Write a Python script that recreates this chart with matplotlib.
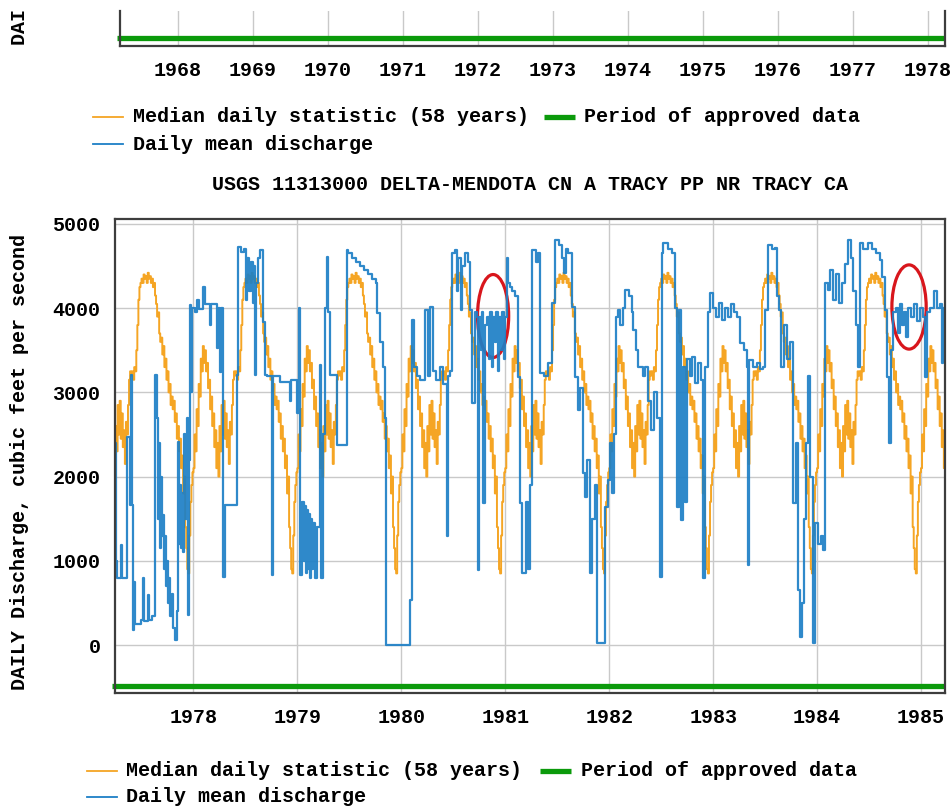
import matplotlib
matplotlib.use('Agg')
import matplotlib.pyplot as plt
from matplotlib.patches import Ellipse
from matplotlib.lines import Line2D
from matplotlib.transforms import Bbox, TransformedBbox

plt.rcParams['font.family'] = ['Liberation Mono', 'DejaVu Sans Mono']
plt.rcParams['font.weight'] = 'bold'
FS = 14.4

title = 'USGS 11313000 DELTA-MENDOTA CN A TRACY PP NR TRACY CA'
ylabel = 'DAILY Discharge, cubic feet per second'
leg_median = 'Median daily statistic (58 years)'
leg_period = 'Period of approved data'
leg_daily = 'Daily mean discharge'

top_years = list(range(1968, 1979))
main_years = list(range(1978, 1986))
cfs_ticks = [0, 1000, 2000, 3000, 4000, 5000]

# median daily statistic, one year (fraction of year -> cfs), same every year
med_frac = [0.000, 0.010, 0.020, 0.030, 0.040, 0.050, 0.060, 0.070, 0.080, 0.090,
            0.100, 0.110, 0.120, 0.130, 0.140, 0.150, 0.160, 0.170, 0.180, 0.190,
            0.200, 0.210, 0.220, 0.230, 0.240, 0.250, 0.260, 0.270, 0.280, 0.290,
            0.300, 0.310, 0.320, 0.330, 0.340, 0.350, 0.360, 0.370, 0.380, 0.390,
            0.400, 0.410, 0.420, 0.430, 0.440, 0.450, 0.460, 0.470, 0.480, 0.490,
            0.500, 0.510, 0.520, 0.530, 0.540, 0.550, 0.560, 0.570, 0.580, 0.590,
            0.600, 0.610, 0.620, 0.630, 0.640, 0.650, 0.660, 0.670, 0.680, 0.690,
            0.700, 0.710, 0.720, 0.730, 0.740, 0.750, 0.760, 0.770, 0.780, 0.790,
            0.800, 0.810, 0.820, 0.830, 0.840, 0.850, 0.860, 0.870, 0.880, 0.890,
            0.900, 0.910, 0.920, 0.930, 0.940, 0.950, 0.960, 0.970, 0.980, 0.990]
med_cfs = [2100, 2500, 2300, 2800, 2600, 3100, 2950, 3400, 3250, 3550,
           3350, 3500, 3250, 3350, 3050, 3150, 2800, 2950, 2600, 2750,
           2350, 2550, 2100, 2400, 2000, 2600, 2300, 2850, 2500, 2900,
           2450, 2750, 2350, 2550, 2150, 2650, 2500, 2850, 3150, 3250,
           3200, 3250, 3150, 3300, 3250, 3500, 3800, 4100, 4250, 4300,
           4350, 4300, 4400, 4350, 4380, 4300, 4420, 4350, 4380, 4300,
           4350, 4250, 4300, 4150, 4050, 3900, 3950, 3700, 3600, 3650,
           3450, 3550, 3300, 3400, 3150, 3250, 3000, 3100, 2850, 2950,
           2800, 2900, 2650, 2750, 2450, 2600, 2300, 2450, 2100, 2250,
           1800, 2000, 1400, 1150, 900, 850, 1300, 1700, 1900, 2050]

# daily mean discharge, read as steps (decimal year -> cfs)
blue_year = [
    # 1977
    1977.244, 1977.254, 1977.264, 1977.307, 1977.317, 1977.360, 1977.389, 1977.398,
    1977.408, 1977.418, 1977.427, 1977.437, 1977.495, 1977.514, 1977.524, 1977.562,
    1977.572, 1977.601, 1977.629, 1977.649, 1977.658, 1977.668, 1977.678, 1977.687,
    1977.697, 1977.706, 1977.716, 1977.726, 1977.735, 1977.745, 1977.755, 1977.764,
    1977.774, 1977.793, 1977.803, 1977.822, 1977.841, 1977.851, 1977.860, 1977.870,
    1977.880, 1977.889, 1977.899, 1977.909, 1977.918, 1977.937, 1977.947, 1977.957,
    1977.966, 1977.976, 1977.986,
    # 1978
    1978.014, 1978.034, 1978.053, 1978.091, 1978.111, 1978.159, 1978.168, 1978.226,
    1978.236, 1978.255, 1978.265, 1978.284, 1978.303, 1978.419, 1978.428, 1978.457,
    1978.486, 1978.505, 1978.515, 1978.534, 1978.553, 1978.573, 1978.582, 1978.592,
    1978.602, 1978.621, 1978.640, 1978.669, 1978.688, 1978.707, 1978.756, 1978.765,
    1978.833, 1978.929, 1978.938, 1978.996,
    # 1979
    1979.011, 1979.025, 1979.044, 1979.064, 1979.073, 1979.083, 1979.092, 1979.102,
    1979.112, 1979.121, 1979.131, 1979.141, 1979.150, 1979.169, 1979.189, 1979.218,
    1979.227, 1979.246, 1979.266, 1979.285, 1979.295, 1979.314, 1979.381, 1979.477,
    1979.487, 1979.526, 1979.564, 1979.603, 1979.641, 1979.680, 1979.718,
    1979.757, 1979.766, 1979.795, 1979.824, 1979.843, 1979.853,
    # 1980
    1980.084, 1980.103, 1980.122, 1980.151, 1980.180, 1980.228, 1980.257, 1980.276,
    1980.305, 1980.334, 1980.373, 1980.401, 1980.440, 1980.450, 1980.469, 1980.488,
    1980.517, 1980.536, 1980.546, 1980.575, 1980.584, 1980.613, 1980.642, 1980.661,
    1980.681, 1980.709, 1980.729, 1980.738, 1980.748, 1980.767, 1980.777, 1980.786,
    1980.806, 1980.825, 1980.844, 1980.854, 1980.873, 1980.883, 1980.902, 1980.912,
    1980.931, 1980.940, 1980.960, 1980.969, 1980.989, 1980.998,
    # 1981
    1981.017, 1981.027, 1981.046, 1981.066, 1981.094, 1981.123, 1981.143, 1981.162,
    1981.200, 1981.220, 1981.239, 1981.258, 1981.297, 1981.316, 1981.335, 1981.374,
    1981.412, 1981.451, 1981.479, 1981.518, 1981.547, 1981.566, 1981.585, 1981.605,
    1981.643, 1981.672, 1981.701, 1981.720, 1981.749, 1981.768, 1981.787, 1981.816,
    1981.836, 1981.864, 1981.884, 1981.961, 1981.990,
    # 1982
    1982.009, 1982.028, 1982.047, 1982.067, 1982.086, 1982.105, 1982.134, 1982.153,
    1982.192, 1982.221, 1982.230, 1982.259, 1982.278, 1982.326, 1982.346, 1982.375,
    1982.403, 1982.432, 1982.461, 1982.490, 1982.509, 1982.519, 1982.567, 1982.606,
    1982.634, 1982.654, 1982.673, 1982.692, 1982.711, 1982.731, 1982.750, 1982.779,
    1982.798, 1982.827, 1982.856, 1982.885, 1982.904, 1982.923, 1982.952, 1982.971,
    # 1983
    1983.000, 1983.029, 1983.058, 1983.087, 1983.116, 1983.144, 1983.173, 1983.202,
    1983.231, 1983.260, 1983.298, 1983.327, 1983.337, 1983.347, 1983.385, 1983.424,
    1983.453, 1983.481, 1983.501, 1983.530, 1983.568, 1983.597, 1983.616, 1983.635,
    1983.655, 1983.684, 1983.712, 1983.741, 1983.770, 1983.799, 1983.818, 1983.838,
    1983.857, 1983.876, 1983.895, 1983.915, 1983.934, 1983.963, 1983.982,
    # 1984
    1984.011, 1984.040, 1984.059, 1984.078, 1984.107, 1984.126, 1984.155, 1984.184,
    1984.213, 1984.242, 1984.271, 1984.299, 1984.328, 1984.348, 1984.377, 1984.396,
    1984.415, 1984.444, 1984.492, 1984.531, 1984.569, 1984.608, 1984.627, 1984.656,
    1984.675, 1984.694, 1984.713, 1984.733, 1984.762, 1984.781, 1984.800, 1984.819,
    1984.839, 1984.858, 1984.877, 1984.906, 1984.935, 1984.964, 1984.993,
    # 1985
    1985.021, 1985.041, 1985.060, 1985.089, 1985.127, 1985.156, 1985.185, 1985.204,
    1985.214, 1985.233]
blue_cfs = [
    # 1977
    2400, 1000, 800, 1190, 800, 2470, 1660, 3210,
    1660, 180, 750, 250, 300, 800, 280, 590,
    300, 350, 3210, 2700, 1500, 2400, 1150, 2000,
    1300, 1540, 900, 1300, 700, 1000, 500, 800,
    350, 600, 200, 60, 400, 2410, 1200, 1900,
    1150, 1800, 1100, 2500, 1500, 2700, 360, 2200,
    4040, 3000, 4000,
    # 1978
    3950, 4100, 3990, 4250, 4050, 3800, 4050, 3530,
    4000, 3240, 4000, 810, 1660, 3210, 4730, 4670,
    4700, 4100, 4600, 4200, 4550, 4060, 4500, 3210,
    4300, 4600, 4690, 3840, 3210, 3200, 830, 3200,
    3120, 2900, 3150, 2750,
    # 1979
    4000, 830, 1700, 1000, 1650, 850, 1600, 900,
    1550, 800, 1500, 900, 1450, 800, 1400, 3330,
    800, 2500, 4000, 4610, 3950, 3210, 2380, 4690,
    4650, 4600, 4550, 4500, 4450, 4400, 4350,
    4300, 3940, 3600, 3300, 2700, 0,
    # 1980
    530, 3860, 3300, 3200, 3150, 3980, 3200, 4010,
    3250, 3150, 3300, 3100, 1300, 3200, 3250, 4650,
    4690, 4200, 4600, 3980, 4500, 4650, 4550, 3980,
    2870, 3950, 3900, 890, 3900, 3500, 3950, 1690,
    3800, 3900, 3400, 3950, 3300, 3900, 3600, 3950,
    3250, 3900, 3500, 3950, 3400, 3900,
    # 1981
    4600, 4300, 4250, 4200, 4150, 3180, 1690, 850,
    1700, 900, 1900, 4690, 4550, 4650, 3230, 3200,
    3350, 4060, 4810, 4750, 4600, 4420, 4700, 4650,
    4010, 3180, 2790, 3050, 2040, 1760, 2200, 850,
    1500, 1900, 20, 1640, 1960,
    # 1982
    2400, 1800, 2500, 3900, 3980, 3800, 4000, 4220,
    4150, 3950, 3740, 3500, 3300, 3200, 3300, 2900,
    2550, 3000, 2700, 810, 4650, 4770, 4700, 4650,
    4000, 1640, 3980, 1480, 3300, 1700, 3400, 3200,
    3420, 3110, 3350, 3150, 800, 3300, 3950, 4180,
    # 1983
    4000, 3900, 4060, 3860, 4000, 3900, 4050, 3950,
    3900, 3590, 3500, 3300, 950, 3390, 3300, 3350,
    3280, 3300, 3980, 4750, 4700, 4720, 4150, 3980,
    3300, 3800, 3400, 3600, 1690, 2400, 650, 100,
    500, 1500, 2400, 3200, 2000, 20, 1450,
    # 1984
    1200, 1300, 1130, 4300, 4220, 4450, 4100, 4400,
    4060, 4300, 4530, 4810, 4600, 4200, 3800, 3300,
    4770, 4700, 4770, 4700, 4650, 4570, 4370, 3980,
    3180, 2400, 3500, 3950, 4000, 3700, 4050, 3800,
    3950, 3660, 4000, 3900, 4050, 3850, 4000,
    # 1985
    3900, 3180, 3950, 4000, 4200, 4000, 4050, 3350,
    4000, 4000]

# circled periods (center year, center cfs, width in years, height in cfs)
circles = [(1980.883, 3907, 0.30, 985), (1984.885, 4014, 0.33, 1000)]

c_orange = '#f5a524'
c_blue = '#1d7fc6'
c_green = '#0b9a0b'
c_red = '#d8161c'
c_grid = '#c9c9c9'
c_spine = '#3d3d3d'

W, H = 953, 810


def fx(px):
    return px / W


def fy(py):
    return 1 - py / H


def style_axes(ax):
    for s in ['left', 'right', 'bottom', 'top']:
        ax.spines[s].set_color(c_spine)
        ax.spines[s].set_linewidth(1.6)
    ax.grid(True, color=c_grid, lw=1.0)
    ax.set_axisbelow(True)
    ax.tick_params(length=0, labelsize=FS, pad=11)
    for lab in ax.get_xticklabels() + ax.get_yticklabels():
        lab.set_fontweight('bold')


fig = plt.figure(figsize=(W / 100, H / 100), dpi=100)

# ---- bottom edge of the previous (1968-1978) chart ----
ax0 = fig.add_axes([fx(120), fy(46), fx(945) - fx(120), fy(11) - fy(46)])
ax0.set_xlim(1967.23, 1978.23)
ax0.set_ylim(0, 1)
ax0.set_xticks(top_years)
ax0.set_yticks([])
style_axes(ax0)
ax0.spines['top'].set_visible(False)
ax0.plot([1967.19, 1978.23], [0.23, 0.23], color=c_green, lw=3.8,
         solid_capstyle='butt', clip_on=False)

# ---- main chart ----
ax = fig.add_axes([fx(115), fy(693), fx(945) - fx(115), fy(219) - fy(693)])
x0, x1 = 1977.245, 1985.231
ax.set_xlim(x0, x1)
ax.set_ylim(-570, 5059)
ax.set_xticks(main_years)
ax.set_yticks(cfs_ticks)
style_axes(ax)
ax.tick_params(axis='y', pad=10.5)

med_x, med_y = [], []
for yr in range(1977, 1986):
    med_x += [yr + f for f in med_frac]
    med_y += med_cfs
ax.step(med_x, med_y, where='post', color=c_orange, lw=1.4)
ax.step(blue_year, blue_cfs, where='post', color=c_blue, lw=1.6, alpha=0.92)
ax.plot([x0 - 0.03, x1], [-487, -487], color=c_green, lw=3.8,
        solid_capstyle='butt', clip_on=False)

for cx, cy, w, h in circles:
    ax.add_patch(Ellipse((cx, cy), w, h, fill=False, edgecolor=c_red, lw=2.3))

# ---- texts ----
fig.text(fx(530), fy(185), title, ha='center', va='center', fontsize=FS)
fig.text(fx(20), fy(462), ylabel, rotation=90, ha='center', va='center', fontsize=FS)
# y label of the chart above, cut off where the screenshot starts
t = fig.text(fx(20), fy(45), ylabel, rotation=90, ha='center', va='bottom', fontsize=FS)
t.set_clip_box(TransformedBbox(Bbox([[0, fy(60)], [0.1, fy(11)]]), fig.transFigure))
t.set_clip_on(True)


def legend_block(xl, xt, xg, xgt, y1, y2):
    fig.add_artist(Line2D([fx(xl), fx(xl + 30)], [fy(y1), fy(y1)], color=c_orange, lw=1.3))
    fig.text(fx(xt), fy(y1), leg_median, ha='left', va='center', fontsize=FS)
    fig.add_artist(Line2D([fx(xg), fx(xg + 31)], [fy(y1), fy(y1)], color=c_green, lw=3.8,
                          solid_capstyle='butt'))
    fig.text(fx(xgt), fy(y1), leg_period, ha='left', va='center', fontsize=FS)
    fig.add_artist(Line2D([fx(xl), fx(xl + 30)], [fy(y2), fy(y2)], color=c_blue, lw=1.3))
    fig.text(fx(xt), fy(y2), leg_daily, ha='left', va='center', fontsize=FS)


legend_block(93, 133, 544, 584, 117, 144)
legend_block(87, 126, 540, 581, 771, 797)

plt.savefig('out.png', dpi=100)
